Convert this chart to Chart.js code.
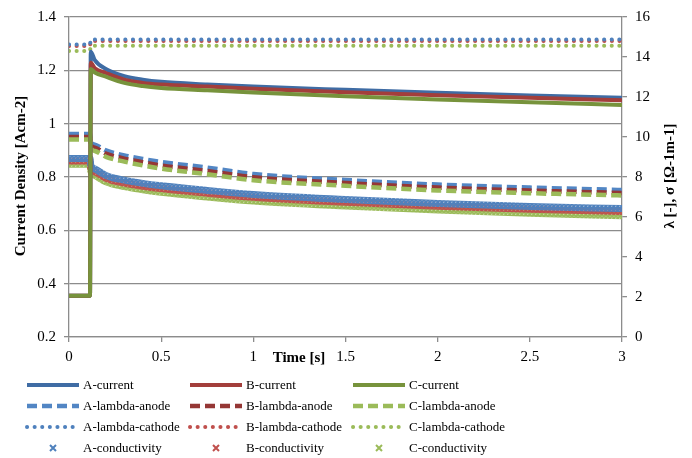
<!DOCTYPE html>
<html>
<head>
<meta charset="utf-8">
<script src="https://cdn.jsdelivr.net/npm/chart.js@4.4.1/dist/chart.umd.min.js"></script>
<style>
  body { margin: 0; background: #fff; }
  #wrap { width: 692px; height: 458px; position: relative; }
</style>
</head>
<body>
<div id="wrap"><canvas id="fuelcell-chart"></canvas></div>
<script>
// time axis [s]
const times = [0, 0.114, 0.118, 0.14, 0.2, 0.3, 0.4, 0.5, 0.75, 1, 1.5, 2, 2.5, 3];

// current density [A cm-2] (left axis)
const currentA = [0.355, 0.355, 1.27, 1.238, 1.205, 1.178, 1.165, 1.157, 1.147, 1.139, 1.127, 1.116, 1.106, 1.097];
const currentB = [0.355, 0.355, 1.228, 1.208, 1.19, 1.165, 1.153, 1.147, 1.139, 1.131, 1.118, 1.107, 1.097, 1.088];
const currentC = [0.355, 0.355, 1.205, 1.192, 1.176, 1.153, 1.141, 1.134, 1.125, 1.117, 1.103, 1.091, 1.08, 1.07];

// lambda anode (right axis)
const anodeA = [10.15, 10.15, 9.75, 9.62, 9.33, 9.08, 8.9, 8.75, 8.47, 8.15, 7.85, 7.62, 7.47, 7.35];
const anodeB = [10.0, 10.0, 9.6, 9.47, 9.17, 8.92, 8.74, 8.58, 8.3, 7.99, 7.7, 7.47, 7.32, 7.2];
const anodeC = [9.87, 9.87, 9.45, 9.3, 9.01, 8.77, 8.58, 8.42, 8.14, 7.84, 7.56, 7.33, 7.19, 7.08];

// lambda cathode (right axis)
const cathodeA = [14.62, 14.62, 14.88, 14.88, 14.88, 14.88, 14.88, 14.88, 14.88, 14.88, 14.88, 14.88, 14.88, 14.88];
const cathodeB = [14.55, 14.55, 14.8, 14.8, 14.8, 14.8, 14.8, 14.8, 14.8, 14.8, 14.8, 14.8, 14.8, 14.8];
const cathodeC = [14.3, 14.3, 14.56, 14.56, 14.56, 14.56, 14.56, 14.56, 14.56, 14.56, 14.56, 14.56, 14.56, 14.56];

// conductivity (right axis)
const condA = [8.92, 8.92, 8.6, 8.4, 8.08, 7.84, 7.68, 7.56, 7.33, 7.13, 6.88, 6.68, 6.53, 6.42];
const condB = [8.8, 8.8, 8.46, 8.26, 7.94, 7.7, 7.54, 7.42, 7.19, 6.99, 6.74, 6.54, 6.39, 6.28];
const condC = [8.64, 8.64, 8.3, 8.08, 7.76, 7.52, 7.36, 7.23, 7.0, 6.8, 6.55, 6.35, 6.19, 6.06];

const timeTicks = [0, 0.5, 1, 1.5, 2, 2.5, 3];
const leftTicks = [0.2, 0.4, 0.6, 0.8, 1, 1.2, 1.4];
const rightTicks = [0, 2, 4, 6, 8, 10, 12, 14, 16];

const gridGray = '#8c8c8c';
const serif = '"Liberation Serif", "Times New Roman", serif';

function pts(ys) {
    return ys.map((y, i) => ({ x: times[i], y: y }));
}

// small tiled "x" texture so the conductivity band looks like dense x markers
function xPattern(color) {
    const c = document.createElement('canvas');
    c.width = 4; c.height = 4;
    const g = c.getContext('2d');
    g.strokeStyle = color;
    g.lineWidth = 2;
    g.beginPath();
    g.moveTo(0, 0); g.lineTo(4, 4);
    g.moveTo(4, 0); g.lineTo(0, 4);
    g.stroke();
    return g.createPattern(c, 'repeat');
}

function current(label, ys, color, order) {
    return { label, data: pts(ys), borderColor: color, borderWidth: 4, order,
             legendColor: color, kind: 'line', cubicInterpolationMode: 'monotone' };
}
function anode(label, ys, color, order) {
    return { label, data: pts(ys), borderColor: color, borderWidth: 4.5, borderDash: [10, 5], order,
             legendColor: color, kind: 'line', yAxisID: 'y2', cubicInterpolationMode: 'monotone' };
}
function cathode(label, ys, color, order) {
    return { label, data: pts(ys), borderColor: color, borderWidth: 4, borderDash: [0.1, 7.5],
             borderCapStyle: 'round', order, legendColor: color, kind: 'line', yAxisID: 'y2' };
}
function conductivity(label, ys, color, order) {
    return { label, data: pts(ys), borderColor: xPattern(color), borderWidth: 7, order,
             legendColor: color, kind: 'marker', yAxisID: 'y2', cubicInterpolationMode: 'monotone' };
}

const datasets = [
    current('A-current', currentA, '#3f6ca4', 2),
    current('B-current', currentB, '#a33e3b', 1),
    current('C-current', currentC, '#77933c', 0),
    anode('A-lambda-anode', anodeA, '#5286c4', 5),
    anode('B-lambda-anode', anodeB, '#953735', 4),
    anode('C-lambda-anode', anodeC, '#9bbb59', 3),
    cathode('A-lambda-cathode', cathodeA, '#4f81bd', 6),
    cathode('B-lambda-cathode', cathodeB, '#c0504d', 7),
    cathode('C-lambda-cathode', cathodeC, '#9bbb59', 8),
    conductivity('A-conductivity', condA, '#4f81bd', 9),
    conductivity('B-conductivity', condB, '#c0504d', 10),
    conductivity('C-conductivity', condC, '#9bbb59', 11)
];

// legend in a 3 column grid + the axis titles, drawn on the canvas
const extras = {
    id: 'extras',
    afterDraw(chart) {
        const ctx = chart.ctx;
        const colX = [27, 190, 353];
        const rowY = [385, 406, 427, 448];
        chart.data.datasets.forEach((ds, i) => {
            const x = colX[i % 3];
            const y = rowY[Math.floor(i / 3)];
            ctx.save();
            ctx.strokeStyle = ds.legendColor;
            if (ds.kind === 'marker') {
                ctx.lineWidth = 2;
                ctx.beginPath();
                ctx.moveTo(x + 23, y - 3); ctx.lineTo(x + 29, y + 3);
                ctx.moveTo(x + 29, y - 3); ctx.lineTo(x + 23, y + 3);
                ctx.stroke();
            } else {
                ctx.lineWidth = ds.borderWidth;
                ctx.setLineDash(ds.borderDash || []);
                ctx.lineCap = ds.borderCapStyle || 'butt';
                ctx.beginPath();
                ctx.moveTo(x, y); ctx.lineTo(x + 52, y);
                ctx.stroke();
            }
            ctx.fillStyle = '#000';
            ctx.font = '13px ' + serif;
            ctx.textBaseline = 'middle';
            ctx.fillText(ds.label, x + 56, y + 1);
            ctx.restore();
        });

        ctx.save();
        ctx.fillStyle = '#000';
        ctx.font = 'bold 15px ' + serif;
        ctx.textAlign = 'center';
        ctx.textBaseline = 'middle';
        ctx.fillText('Time [s]', 299, 358);
        ctx.translate(21, 176);
        ctx.rotate(-Math.PI / 2);
        ctx.fillText('Current Density [Acm-2]', 0, 0);
        ctx.restore();

        ctx.save();
        ctx.fillStyle = '#000';
        ctx.font = 'bold 15px ' + serif;
        ctx.textAlign = 'center';
        ctx.textBaseline = 'middle';
        ctx.translate(670, 176);
        ctx.rotate(-Math.PI / 2);
        ctx.fillText('λ [-], σ [Ω-1m-1]', 0, 0);
        ctx.restore();
    }
};

const tickFont = { family: serif, size: 15 };
const plain = v => String(Math.round(v * 100) / 100);

new Chart(document.getElementById('fuelcell-chart'), {
    type: 'line',
    data: { datasets: datasets },
    options: {
        responsive: true,
        maintainAspectRatio: false,
        animation: false,
        layout: { padding: { top: 15 } },
        elements: { point: { radius: 0 } },
        plugins: { legend: { display: false }, tooltip: { enabled: false } },
        scales: {
            x: {
                type: 'linear', min: 0, max: 3,
                afterFit: s => { s.height = 121; },
                afterBuildTicks: s => { s.ticks = timeTicks.map(v => ({ value: v })); },
                ticks: { font: tickFont, color: '#000', padding: 6, maxRotation: 0, callback: plain },
                grid: { drawOnChartArea: false, drawTicks: true, tickLength: 5, color: gridGray, lineWidth: 1.3 },
                border: { color: gridGray, width: 1.3 }
            },
            y: {
                position: 'left', min: 0.2, max: 1.4,
                afterFit: s => { s.width = 69; },
                afterBuildTicks: s => { s.ticks = leftTicks.map(v => ({ value: v })); },
                ticks: { font: tickFont, color: '#000', padding: 8, callback: plain },
                grid: { color: gridGray, lineWidth: 1.3, tickLength: 5 },
                border: { color: gridGray, width: 1.3 }
            },
            y2: {
                position: 'right', min: 0, max: 16,
                afterFit: s => { s.width = 70; },
                afterBuildTicks: s => { s.ticks = rightTicks.map(v => ({ value: v })); },
                ticks: { font: tickFont, color: '#000', padding: 8, callback: plain },
                grid: { drawOnChartArea: false, color: gridGray, lineWidth: 1.3, tickLength: 5 },
                border: { color: gridGray, width: 1.3 }
            }
        }
    },
    plugins: [extras]
});
</script>
</body>
</html>
